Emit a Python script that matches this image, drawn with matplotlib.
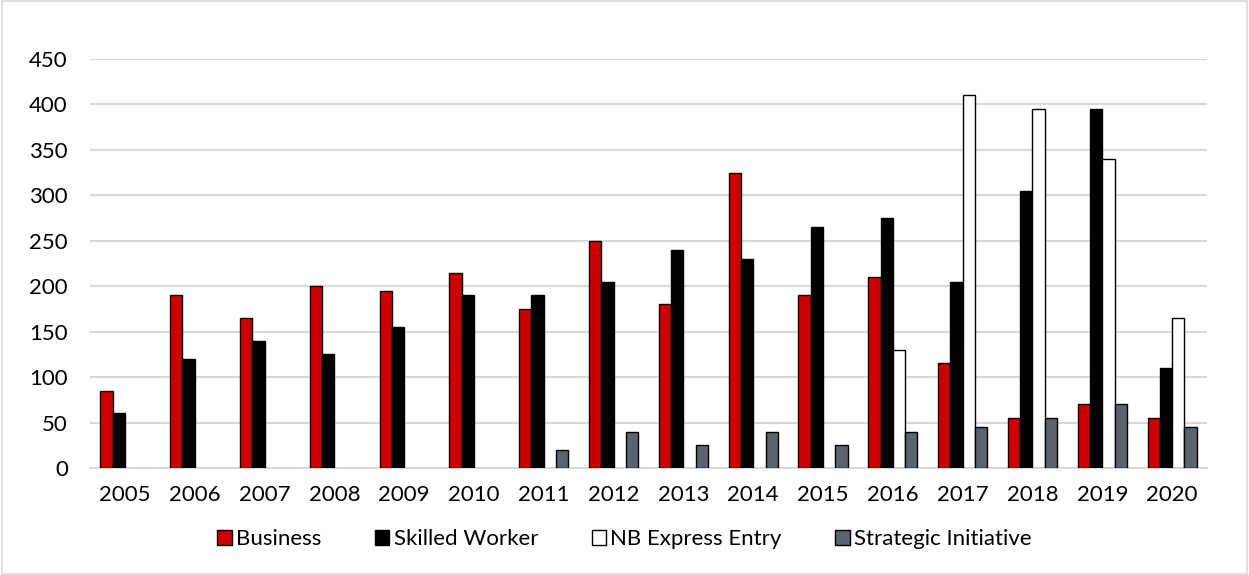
import numpy as np
import matplotlib.pyplot as plt
from matplotlib.patches import Rectangle

plt.rcParams['font.family'] = ['Lato', 'DejaVu Sans']

years = [str(y) for y in range(2005, 2021)]
business = [85, 190, 165, 200, 195, 215, 175, 250, 180, 325, 190, 210, 115, 55, 70, 55]
skilled_worker = [60, 120, 140, 125, 155, 190, 190, 205, 240, 230, 265, 275, 205, 305, 395, 110]
nb_express = [0, 0, 0, 0, 0, 0, 0, 0, 0, 0, 0, 130, 410, 395, 340, 165]
strategic = [0, 0, 0, 0, 0, 0, 20, 40, 25, 40, 25, 40, 45, 55, 70, 45]

series = [
    ('Business', business, '#cc0000'),
    ('Skilled Worker', skilled_worker, '#000000'),
    ('NB Express Entry', nb_express, '#ffffff'),
    ('Strategic Initiative', strategic, '#5b646c'),
]

fig = plt.figure(figsize=(12.49, 5.75), dpi=100)
ax = fig.add_axes([90 / 1249, 1 - 468 / 575, (1207 - 90) / 1249, (468 - 59) / 575])

# light border round the whole chart
fig.patches.append(Rectangle((0.0015, 0.002), 0.997, 0.996, transform=fig.transFigure,
                             fill=False, edgecolor='#d9d9d9', linewidth=1.2))

x = np.arange(len(years))
w = 0.176
for k, (name, vals, col) in enumerate(series):
    v = np.array(vals, dtype=float)
    v[v == 0] = np.nan
    ax.bar(x + (k - 1.5) * w, v, width=w, color=col, edgecolor='black',
           linewidth=1.0, label=name, zorder=3)

ax.set_xlim(-0.5, len(years) - 0.5)
ax.set_ylim(0, 450)
ax.set_yticks(range(0, 451, 50))
ax.set_xticks(x)
ax.set_xticklabels(years)
ax.yaxis.grid(True, color='#d9d9d9', linewidth=1.5, zorder=0)
ax.set_axisbelow(True)
for s in ['top', 'right', 'left']:
    ax.spines[s].set_visible(False)
ax.spines['bottom'].set_color('#d9d9d9')
ax.spines['bottom'].set_linewidth(1.5)
ax.tick_params(axis='both', length=0, labelsize=16, colors='#000000')
ax.tick_params(axis='x', pad=12)
ax.tick_params(axis='y', pad=16)

# legend centred on the figure, below the axis
fig.legend(*ax.get_legend_handles_labels(), loc='center',
           bbox_to_anchor=(0.5, 1 - 539 / 575), ncol=4, frameon=False,
           fontsize=16, handlelength=0.65, handleheight=0.65, handletextpad=0.2,
           columnspacing=2.4)

fig.savefig('out.png', dpi=100)
